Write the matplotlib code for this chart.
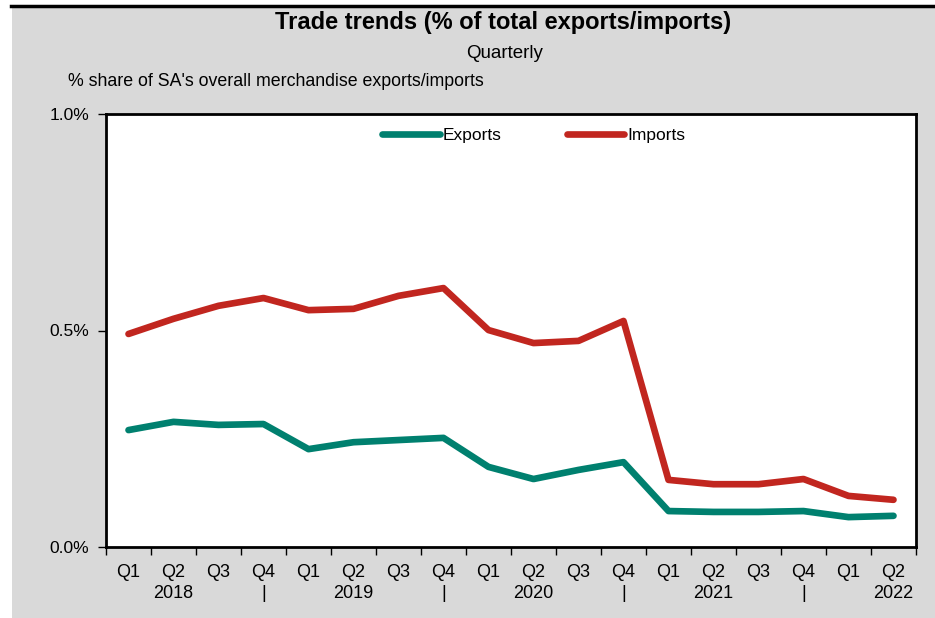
import matplotlib
matplotlib.use("Agg")
from matplotlib import pyplot as plt
from matplotlib.patches import Rectangle
from matplotlib.lines import Line2D
import numpy as np

plt.rcParams['font.family'] = ['Liberation Sans', 'DejaVu Sans']
NARROW = ['Liberation Sans Narrow', 'Liberation Sans', 'DejaVu Sans']

# data (% share)
quarters = ["Q1", "Q2", "Q3", "Q4"] * 4 + ["Q1", "Q2"]
years = ["2018", "2019", "2020", "2021", "2022"]
exports = [0.270, 0.289, 0.282, 0.284, 0.226, 0.242, 0.247, 0.252,
           0.185, 0.157, 0.178, 0.196, 0.083, 0.081, 0.081, 0.083,
           0.069, 0.072]
imports = [0.492, 0.527, 0.557, 0.575, 0.547, 0.550, 0.580, 0.598,
           0.501, 0.471, 0.476, 0.522, 0.155, 0.145, 0.145, 0.157,
           0.118, 0.109]

# second line of each tick label: year under Q2, "|" under Q4
labels = []
for i, q in enumerate(quarters):
    sub = ""
    if q == "Q2":
        sub = years[i // 4]
    elif q == "Q4":
        sub = "|"
    labels.append(q + "\n" + sub)

W, H = 935, 618
fig = plt.figure(figsize=(W / 100, H / 100), dpi=100, facecolor="white")

# grey panel with black top rule
fig.patches.append(Rectangle((12 / W, 0), 1 - 12 / W, 1 - 7 / H, transform=fig.transFigure,
                             facecolor="#d9d9d9", edgecolor="none", zorder=-5))
fig.lines.append(Line2D([11 / W, 1], [1 - 6 / H, 1 - 6 / H], transform=fig.transFigure,
                        color="black", linewidth=2.5, zorder=-4))

ax = fig.add_axes([106 / W, 1 - 547 / H, 810 / W, 433 / H])
ax.set_facecolor("white")

x = np.arange(len(quarters))
ax.plot(x, exports, color="#00806f", lw=4.8, solid_capstyle="round", label="Exports")
ax.plot(x, imports, color="#c1261f", lw=4.8, solid_capstyle="round", label="Imports")

ax.set_xlim(-0.5, len(quarters) - 0.5)
ax.set_ylim(0, 1.0)
ax.set_yticks([0, 0.5, 1.0])
ax.set_yticklabels(["0.0%", "0.5%", "1.0%"], fontsize=12.5)
ax.set_xticks(x)
ax.set_xticklabels(labels, fontsize=13, linespacing=1.3)
ax.tick_params(axis="x", length=0, pad=12)
ax.set_xticks(np.arange(len(quarters) + 1) - 0.5, minor=True)
ax.tick_params(axis="x", which="minor", length=6, width=1, direction="out")
ax.tick_params(axis="y", length=6, width=1, direction="out", pad=6)
for s in ax.spines.values():
    s.set_linewidth(2)
    s.set_color("black")

ax.legend(loc="upper center", bbox_to_anchor=(0.528, 1.004), ncol=2, frameon=False,
          fontsize=12.5, handlelength=3.3, handletextpad=0.15, columnspacing=3.8)

fig.text(503 / W, 1 - 22 / H, "Trade trends (% of total exports/imports)", ha="center",
         va="center", fontsize=17, fontweight="bold", family=NARROW)
fig.text(505 / W, 1 - 54 / H, "Quarterly", ha="center", va="center", fontsize=13.5,
         family=NARROW)
fig.text(68 / W, 1 - 82 / H, "% share of SA's overall merchandise exports/imports", ha="left",
         va="center", fontsize=12.8, family=NARROW)

fig.savefig("out.png", dpi=100, facecolor=fig.get_facecolor())
